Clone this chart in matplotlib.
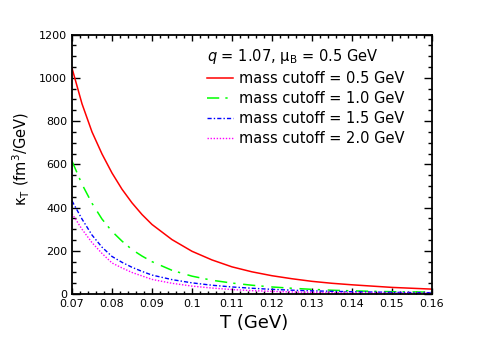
import matplotlib
matplotlib.use("Agg")
from matplotlib import pyplot as plt
from matplotlib.ticker import MultipleLocator, FuncFormatter

# temperature grid (GeV) and kappa_T (fm^3/GeV)
T = [0.070, 0.0725, 0.075, 0.0775, 0.080, 0.0825, 0.085, 0.0875, 0.090,
     0.095, 0.100, 0.105, 0.110, 0.115, 0.120, 0.125, 0.130, 0.135,
     0.140, 0.145, 0.150, 0.155, 0.160]

kappa_05 = [1045, 880, 750, 648, 560, 485, 422, 368, 322, 252, 198, 158,
            126, 103, 85, 71, 59, 50, 43, 37, 31, 27, 23]
kappa_10 = [615, 508, 420, 347, 290, 245, 206, 176, 150, 110, 83, 64,
            51, 41, 33, 27, 22, 18, 15, 13, 11, 10, 9]
kappa_15 = [431, 347, 273, 217, 174, 147, 124, 105, 88, 67, 52, 41,
            33, 27, 22, 18, 15, 13, 11, 9.5, 8.3, 7.3, 6.5]
kappa_20 = [372, 300, 238, 188, 144, 121, 100, 84, 68, 50, 37, 28,
            21, 16, 12.5, 10, 8, 6.8, 5.8, 5, 4.3, 3.8, 3.4]

labels = ["mass cutoff = 0.5 GeV", "mass cutoff = 1.0 GeV",
          "mass cutoff = 1.5 GeV", "mass cutoff = 2.0 GeV"]

fig = plt.figure(figsize=(4.81, 3.46), dpi=100)
ax = fig.add_axes([0.1497, 0.150, 0.7483, 0.750])

ax.plot(T, kappa_05, color="#ff0000", lw=1.1, ls="-", label=labels[0])
ax.plot(T, kappa_10, color="#00ff00", lw=1.1, ls=(0, (8, 4, 1.5, 5)), label=labels[1])
ax.plot(T, kappa_15, color="#0000ff", lw=1.0, ls=(0, (3, 1.5, 1, 1.5)), label=labels[2])
ax.plot(T, kappa_20, color="#ff00ff", lw=1.0, ls=(0, (1, 1.2)), label=labels[3])

ax.set_xlim(0.07, 0.16)
ax.set_ylim(0, 1200)

ax.xaxis.set_major_locator(MultipleLocator(0.01))
ax.xaxis.set_minor_locator(MultipleLocator(0.002))
ax.yaxis.set_major_locator(MultipleLocator(200))
ax.yaxis.set_minor_locator(MultipleLocator(50))
ax.xaxis.set_major_formatter(FuncFormatter(lambda v, p: "%g" % round(v, 3)))

ax.tick_params(which="both", direction="in", top=True, right=True,
               labelsize=8, width=1.0)
ax.tick_params(axis="x", which="major", length=4.5, pad=3.5)
ax.tick_params(axis="x", which="minor", length=2.5)
ax.tick_params(axis="y", which="major", length=5.5, pad=3.5)
ax.tick_params(axis="y", which="minor", length=2.8)
for s in ax.spines.values():
    s.set_linewidth(1.3)

ax.set_xlabel("T (GeV)", fontsize=13)
ax.xaxis.set_label_coords(0.506, -0.075)
ax.set_ylabel("κ$_\\mathrm{T}$ (fm$^3$/GeV)", fontsize=10.5)
ax.yaxis.set_label_coords(-0.11, 0.52)

leg = ax.legend(loc="upper left", bbox_to_anchor=(0.36, 0.975), frameon=False,
                fontsize=10.5, title="$q$ = 1.07, μ$_\\mathrm{B}$ = 0.5 GeV",
                title_fontsize=10.5, alignment="left", handlelength=1.75,
                handletextpad=0.4, labelspacing=0.35, borderaxespad=0.0)

fig.savefig("out.png", dpi=100)
